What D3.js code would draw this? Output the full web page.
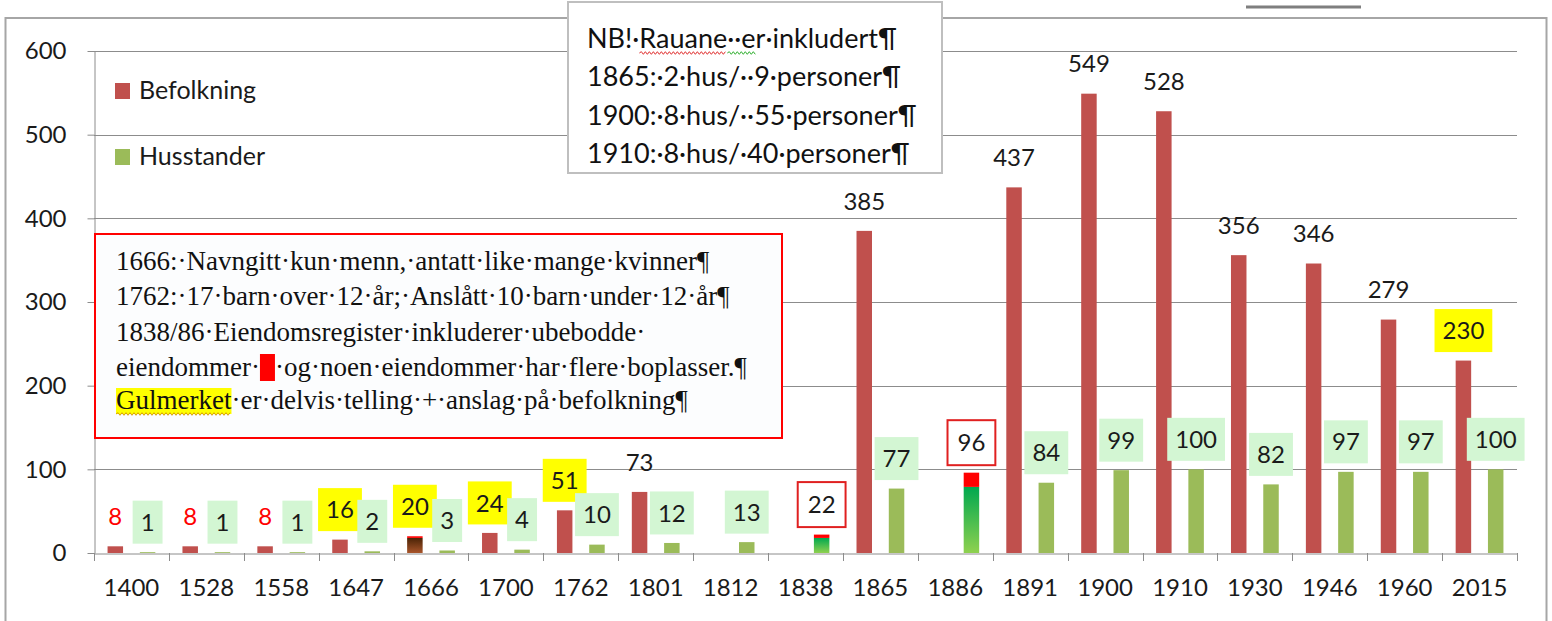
<!DOCTYPE html>
<html lang="no">
<head>
<meta charset="UTF-8">
<title>Befolkning og husstander</title>
<script src="https://d3js.org/d3.v7.min.js"></script>
<style>
  body { margin: 0; background: #fff; }
  svg { display: block; font-family: Lato, "Open Sans", sans-serif; }
</style>
</head>
<body>
<svg width="1552" height="621"></svg>
<script>
const years = ["1400","1528","1558","1647","1666","1700","1762","1801","1812","1838","1865","1886","1891","1900","1910","1930","1946","1960","2015"];
const befolkning = [8,8,8,16,20,24,51,73,null,null,385,null,437,549,528,356,346,279,230];
const husstander = [1,1,1,2,3,4,10,12,13,22,77,96,84,99,100,82,97,97,100];
// red top part of a bar (uncertain / uninhabited)
const befolkningRod = [0,0,0,0,2,0,0,0,0,0,0,0,0,0,0,0,0,0,0];
const husstanderRod = [0,0,0,0,0,0,0,0,0,4,0,17,0,0,0,0,0,0,0];
// label style: r = red text, y = yellow highlight, p = plain, g = light green, box = red frame
const befolkningMerke = ["r","r","r","y","y","y","y","p","","","p","","p","p","p","p","p","p","y"];
const husstanderMerke = ["g","g","g","g","g","g","g","g","g","box","g","box","g","g","g","g","g","g","g"];
const yTicks = [0,100,200,300,400,500,600];
const serier = ["Befolkning","Husstander"];

const notatTopp = ["NB!·Rauane··er·inkludert¶", "1865:·2·hus/··9·personer¶", "1900:·8·hus/··55·personer¶", "1910:·8·hus/·40·personer¶"];
const notatBoks = ["1666:·Navngitt·kun·menn,·antatt·like·mange·kvinner¶",
                   "1762:·17·barn·over·12·år;·Anslått·10·barn·under·12·år¶",
                   "1838/86·Eiendomsregister·inkluderer·ubebodde·",
                   "eiendommer·", "·og·noen·eiendommer·har·flere·boplasser.¶",
                   "Gulmerket", "·er·delvis·telling·+·anslag·på·befolkning¶"];

const svg = d3.select("svg");
const plot = {left: 94, right: 1517, top: 51, bottom: 553};
const farger = {befolkning: "#c0504d", husstander: "#9bbb59", grid: "#8c8c8c"};
const fs = 24;

const x = d3.scaleBand().domain(years).range([plot.left, plot.right]);
const xs = d3.scaleBand().domain(["b", "h"]).range([0, x.bandwidth()])
    .paddingInner(0.52).paddingOuter(0.42);
const y = d3.scaleLinear().domain([0, 600]).range([plot.bottom, plot.top]);

// gradients for the special bars
const defs = svg.append("defs");
function gradient(id, c1, c2) {
    const g = defs.append("linearGradient").attr("id", id)
        .attr("x1", 0).attr("y1", 0).attr("x2", 0).attr("y2", 1);
    g.append("stop").attr("offset", "0%").attr("stop-color", c1);
    g.append("stop").attr("offset", "100%").attr("stop-color", c2);
}
gradient("brun", "#4a2306", "#a9552a");
gradient("gronn", "#00a84f", "#8fd14f");

// outer frame
svg.append("rect").attr("x", 5.5).attr("y", 18).attr("width", 1541).attr("height", 700)
    .attr("fill", "none").attr("stroke", "#a6a6a6").attr("stroke-width", 2);
svg.append("line").attr("x1", 1246).attr("x2", 1361).attr("y1", 7).attr("y2", 7)
    .attr("stroke", "#7f7f7f").attr("stroke-width", 3);

// gridlines
svg.append("g").selectAll("line").data(yTicks.slice(1)).join("line")
    .attr("x1", plot.left).attr("x2", plot.right)
    .attr("y1", d => Math.round(y(d)) + 0.5).attr("y2", d => Math.round(y(d)) + 0.5)
    .attr("stroke", farger.grid);

// y axis
const yAxis = svg.append("g").attr("transform", `translate(${plot.left + 0.5},0)`)
    .call(d3.axisLeft(y).tickValues(yTicks).tickSize(7).tickPadding(21).tickSizeOuter(0));
yAxis.selectAll("path, line").attr("stroke", farger.grid);
yAxis.selectAll("text").attr("font-size", fs).attr("font-family", "Lato").attr("fill", "#1a1a1a");

// x axis: labels in band centres, ticks on band edges
const xAxis = svg.append("g").attr("transform", `translate(0,${plot.bottom + 0.5})`)
    .call(d3.axisBottom(x).tickSize(0).tickPadding(25));
xAxis.select(".domain").attr("stroke", farger.grid);
xAxis.selectAll("text").attr("font-size", fs).attr("font-family", "Lato").attr("fill", "#1a1a1a");
svg.append("g").selectAll("line").data(years.map(d => x(d)).concat([plot.right])).join("line")
    .attr("x1", d => Math.round(d) + 0.5).attr("x2", d => Math.round(d) + 0.5)
    .attr("y1", plot.bottom).attr("y2", plot.bottom + 8)
    .attr("stroke", farger.grid);

// bars
function tegnSøyler(verdier, rod, slot, farge, spesial) {
    const g = svg.append("g");
    verdier.forEach((v, i) => {
        if (v == null) return;
        const x0 = x(years[i]) + xs(slot), w = xs.bandwidth();
        const r = rod[i];
        g.append("rect").attr("x", x0).attr("width", w)
            .attr("y", y(v - r)).attr("height", y(0) - y(v - r))
            .attr("fill", r > 0 ? `url(#${spesial})` : farge);
        if (r > 0) {
            g.append("rect").attr("x", x0).attr("width", w)
                .attr("y", y(v)).attr("height", y(v - r) - y(v))
                .attr("fill", "#ff0000");
        }
    });
}
tegnSøyler(befolkning, befolkningRod, "b", farger.befolkning, "brun");
tegnSøyler(husstander, husstanderRod, "h", farger.husstander, "gronn");

// data labels
function tegnEtiketter(verdier, merke, slot) {
    const g = svg.append("g").attr("font-size", fs).attr("font-family", "Lato");
    verdier.forEach((v, i) => {
        if (v == null) return;
        const cx = x(years[i]) + xs(slot) + xs.bandwidth() / 2;
        const cy = y(v) - 30;
        const m = merke[i];
        const e = g.append("g").attr("transform", `translate(${cx},${cy})`);
        const rect = e.append("rect");
        const t = e.append("text").attr("text-anchor", "middle").attr("dy", "0.36em")
            .attr("fill", m === "r" ? "#ff0000" : "#1a1a1a").text(v);
        const tl = t.node().getComputedTextLength();
        if (m === "g" || m === "y") {
            rect.attr("x", -(tl + 16) / 2).attr("y", -21.5).attr("width", tl + 16).attr("height", 43)
                .attr("fill", m === "g" ? "#d3f6d3" : "#ffff00");
        } else if (m === "box") {
            rect.attr("x", -(tl + 20) / 2).attr("y", -22.5).attr("width", tl + 20).attr("height", 45)
                .attr("fill", "#fff").attr("stroke", "#e02020").attr("stroke-width", 2);
        } else {
            rect.remove();
        }
    });
}
tegnEtiketter(befolkning, befolkningMerke, "b");
tegnEtiketter(husstander, husstanderMerke, "h");

// legend
const legend = svg.append("g").attr("font-size", 25).attr("font-family", "Lato").attr("fill", "#1a1a1a");
serier.forEach((s, i) => {
    legend.append("rect").attr("x", 115).attr("y", 83 + i * 66).attr("width", 15).attr("height", 16)
        .attr("fill", i === 0 ? farger.befolkning : farger.husstander);
    legend.append("text").attr("x", 139).attr("y", 99 + i * 66).text(s);
});

// wavy spell-check underline
function bølge(g, x1, x2, yy, farge) {
    let d = `M${x1},${yy}`, k = 0;
    for (let xx = x1 + 2; xx <= x2; xx += 2) d += `L${xx},${yy + (k++ % 2 ? 1.3 : -1.3)}`;
    g.append("path").attr("d", d).attr("fill", "none").attr("stroke", farge).attr("stroke-width", 1);
}

// top note box
const topp = svg.append("g");
topp.append("rect").attr("x", 568).attr("y", 2).attr("width", 374).attr("height", 171)
    .attr("fill", "#fff").attr("stroke", "#bfbfbf").attr("stroke-width", 2);
const toppTekst = topp.append("g").attr("font-size", 27).attr("font-family", "Lato").attr("fill", "#111");
notatTopp.forEach((linje, i) => {
    const t = toppTekst.append("text").attr("x", 587).attr("y", 48 + i * 38.3).text(linje);
    if (i === 0) {
        const n = t.node();
        const a = linje.indexOf("Rauane");
        const x1 = 587 + n.getSubStringLength(0, a);
        const x2 = x1 + n.getSubStringLength(a, 6);
        bølge(topp, x1, x2, 53, "#e03030");
        bølge(topp, x2, x2 + n.getSubStringLength(a + 6, 3), 53, "#30b030");
    }
});

// red note box
const boks = svg.append("g");
boks.append("rect").attr("x", 95).attr("y", 234).attr("width", 687).attr("height", 204)
    .attr("fill", "#fcfdfe").attr("stroke", "#ff0000").attr("stroke-width", 2);
const bt = boks.append("g").attr("font-size", 27).attr("font-family", "'Liberation Serif', serif").attr("fill", "#111");
const bx = 116, by = [270, 305, 341, 376, 409];
bt.append("text").attr("x", bx).attr("y", by[0]).text(notatBoks[0]);
bt.append("text").attr("x", bx).attr("y", by[1]).text(notatBoks[1]);
bt.append("text").attr("x", bx).attr("y", by[2]).text(notatBoks[2]);
const l4a = bt.append("text").attr("x", bx).attr("y", by[3]).text(notatBoks[3]);
const w4 = l4a.node().getComputedTextLength();
boks.append("rect").attr("x", bx + w4).attr("y", by[3] - 22).attr("width", 15).attr("height", 27).attr("fill", "#ff0000");
bt.append("text").attr("x", bx + w4 + 15).attr("y", by[3]).text(notatBoks[4]);
const l5a = bt.append("text").attr("x", bx).attr("y", by[4]).text(notatBoks[5]);
const w5 = l5a.node().getComputedTextLength();
boks.insert("rect", "g").attr("x", bx).attr("y", by[4] - 21).attr("width", w5).attr("height", 26).attr("fill", "#ffff00");
bølge(boks, bx, bx + w5, by[4] + 5, "#d9a000");
bt.append("text").attr("x", bx + w5).attr("y", by[4]).text(notatBoks[6]);
</script>
</body>
</html>
